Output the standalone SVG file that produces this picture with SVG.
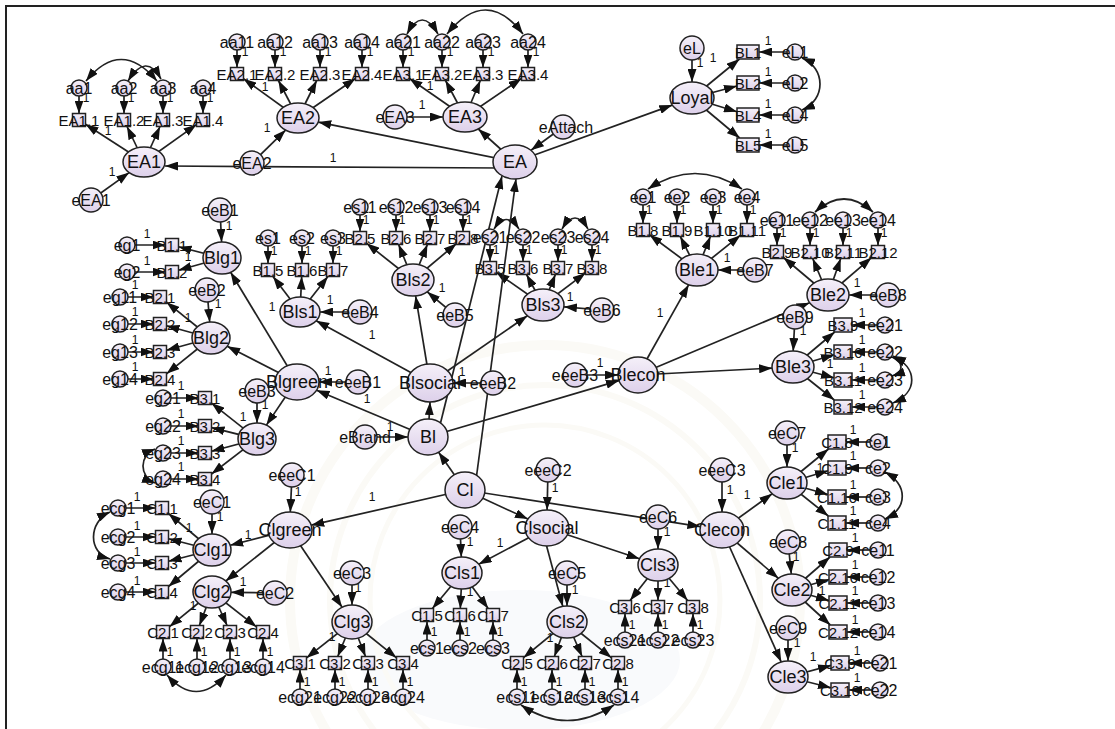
<svg xmlns="http://www.w3.org/2000/svg" width="1115" height="729" viewBox="0 0 1115 729">
<defs>
  <linearGradient id="lg" x1="0" y1="0" x2="0" y2="1">
    <stop offset="0" stop-color="#f5f0f9"/>
    <stop offset="1" stop-color="#ddd0ea"/>
  </linearGradient>
  <marker id="ah" viewBox="0 0 13 9" refX="13" refY="4.5" markerWidth="13" markerHeight="9" markerUnits="userSpaceOnUse" orient="auto-start-reverse">
    <path d="M0,0 L13,4.5 L0,9 z" fill="#111"/>
  </marker>
</defs>
<style>
  .n{fill:url(#lg);stroke:#222;stroke-width:1.5}
  .c line,.c path{stroke:#222;stroke-width:1.7;fill:none;marker-end:url(#ah)}
  .c path.cov{marker-start:url(#ah)}
  text{font-family:"Liberation Sans",Arial,sans-serif;fill:#111;text-anchor:middle;dominant-baseline:central}
  .tl{font-size:18px}
  .te{font-size:16px}
  .to{font-size:15px}
  .one{font-size:12px}
  .wm{fill:none;stroke:#fbfaf6}
</style>
<rect width="1115" height="729" fill="#fff"/>
<!-- faint seal in the background -->
<g id="watermark">
  <ellipse cx="520" cy="660" rx="160" ry="70" fill="#f9fafc"/>
  <circle class="wm" cx="545" cy="600" r="255" stroke-width="10"/>
  <circle class="wm" cx="545" cy="600" r="215" stroke-width="6"/>
  <circle class="wm" cx="545" cy="600" r="175" stroke-width="5"/>
</g>
<!-- frame -->
<path d="M6,729 V6 H1115" fill="none" stroke="#222" stroke-width="2"/>

<g id="connectors" class="c">
  <!-- EA level -->
  <line x1="500" y1="168" x2="165" y2="166"/>
  <line x1="515" y1="162" x2="318.2" y2="122.1"/>
  <line x1="515" y1="162" x2="478.3" y2="129"/>
  <line x1="515" y1="162" x2="672.3" y2="105.1"/>
  <line x1="563" y1="127" x2="531" y2="150.3"/>
  <line x1="91" y1="200" x2="129.2" y2="172.6"/>
  <line x1="252" y1="163" x2="285.6" y2="130.1"/>
  <line x1="395" y1="117" x2="443" y2="117"/>
  <line x1="144" y1="162" x2="85.5" y2="124.2"/>
  <line x1="144" y1="162" x2="127" y2="126.5"/>
  <line x1="144" y1="162" x2="160" y2="126.5"/>
  <line x1="144" y1="162" x2="196.5" y2="124.6"/>
  <line x1="79" y1="88" x2="79" y2="113.5"/>
  <line x1="124" y1="88" x2="124" y2="113.5"/>
  <line x1="163" y1="88" x2="163" y2="113.5"/>
  <line x1="203" y1="88" x2="203" y2="113.5"/>
  <line x1="298" y1="118" x2="243.5" y2="78.7"/>
  <line x1="298" y1="118" x2="278.4" y2="80.5"/>
  <line x1="298" y1="118" x2="316.7" y2="80.5"/>
  <line x1="298" y1="118" x2="355.5" y2="78.5"/>
  <line x1="237" y1="42" x2="237" y2="67.5"/>
  <line x1="275" y1="42" x2="275" y2="67.5"/>
  <line x1="320" y1="42" x2="320" y2="67.5"/>
  <line x1="362" y1="42" x2="362" y2="67.5"/>
  <line x1="465" y1="117" x2="409.5" y2="78.5"/>
  <line x1="465" y1="117" x2="445.5" y2="80.5"/>
  <line x1="465" y1="117" x2="480.3" y2="80.5"/>
  <line x1="465" y1="117" x2="521.5" y2="78.4"/>
  <line x1="403" y1="42" x2="403" y2="67.5"/>
  <line x1="442" y1="42" x2="442" y2="67.5"/>
  <line x1="483" y1="42" x2="483" y2="67.5"/>
  <line x1="528" y1="42" x2="528" y2="67.5"/>
  <path class="cov" d="M86,81 Q121,38 157,81"/>
  <path class="cov" d="M128,81 Q146,52 161,79"/>
  <path class="cov" d="M407,34 Q422,6 438,34"/>
  <path class="cov" d="M447,34 Q486,-14 523,34"/>
  <!-- Loyal -->
  <line x1="692" y1="48" x2="692" y2="82"/>
  <line x1="692" y1="98" x2="739.5" y2="59"/>
  <line x1="692" y1="98" x2="737" y2="86"/>
  <line x1="692" y1="98" x2="737" y2="111.7"/>
  <line x1="692" y1="98" x2="739.7" y2="138"/>
  <line x1="795" y1="52" x2="759" y2="52"/>
  <line x1="795" y1="83" x2="759" y2="83"/>
  <line x1="795" y1="115" x2="759" y2="115"/>
  <line x1="795" y1="145" x2="759" y2="145"/>
  <path class="cov" d="M802,58 C826,68 826,100 802,110"/>
  <!-- BI green -->
  <line x1="220" y1="210" x2="221.6" y2="242"/>
  <line x1="222" y1="258" x2="178.5" y2="246.7"/>
  <line x1="222" y1="258" x2="178.5" y2="270.2"/>
  <line x1="127" y1="245" x2="165.5" y2="245"/>
  <line x1="127" y1="272" x2="165.5" y2="272"/>
  <line x1="207" y1="290" x2="209.7" y2="322"/>
  <line x1="211" y1="338" x2="166.5" y2="302.2"/>
  <line x1="211" y1="338" x2="166.5" y2="325.8"/>
  <line x1="211" y1="338" x2="166.5" y2="350.2"/>
  <line x1="211" y1="338" x2="166.5" y2="373.8"/>
  <line x1="120" y1="297" x2="153.5" y2="297"/>
  <line x1="120" y1="324" x2="153.5" y2="324"/>
  <line x1="120" y1="352" x2="153.5" y2="352"/>
  <line x1="120" y1="379" x2="153.5" y2="379"/>
  <line x1="257" y1="391" x2="257" y2="423"/>
  <line x1="257" y1="439" x2="211.5" y2="403.1"/>
  <line x1="257" y1="439" x2="211.5" y2="427.6"/>
  <line x1="257" y1="439" x2="211.5" y2="451.3"/>
  <line x1="257" y1="439" x2="211.5" y2="474"/>
  <line x1="163" y1="398" x2="198.5" y2="398"/>
  <line x1="163" y1="426" x2="198.5" y2="426"/>
  <line x1="163" y1="453" x2="198.5" y2="453"/>
  <line x1="163" y1="479" x2="198.5" y2="479"/>
  <path class="cov" d="M155,449 C139,455 139,477 155,483"/>
  <line x1="358" y1="382" x2="319" y2="382"/>
  <line x1="297" y1="382" x2="230.6" y2="272.3"/>
  <line x1="297" y1="382" x2="227.2" y2="346.3"/>
  <line x1="290" y1="390" x2="266.4" y2="425.1"/>
  <!-- BI social -->
  <line x1="360" y1="312" x2="320" y2="312"/>
  <line x1="300" y1="312" x2="273" y2="276.5"/>
  <line x1="300" y1="312" x2="301.7" y2="276.5"/>
  <line x1="300" y1="312" x2="327.9" y2="276.5"/>
  <line x1="268" y1="238" x2="268" y2="263.5"/>
  <line x1="302" y1="238" x2="302" y2="263.5"/>
  <line x1="333" y1="238" x2="333" y2="263.5"/>
  <line x1="455" y1="315" x2="427.2" y2="291.8"/>
  <line x1="413" y1="280" x2="366.5" y2="243.2"/>
  <line x1="413" y1="280" x2="398.6" y2="244.5"/>
  <line x1="413" y1="280" x2="427.4" y2="244.5"/>
  <line x1="413" y1="280" x2="456.5" y2="243.5"/>
  <line x1="360" y1="207" x2="360" y2="231.5"/>
  <line x1="396" y1="207" x2="396" y2="231.5"/>
  <line x1="430" y1="207" x2="430" y2="231.5"/>
  <line x1="463" y1="207" x2="463" y2="231.5"/>
  <line x1="602" y1="310" x2="563.9" y2="306.8"/>
  <line x1="543" y1="305" x2="496.5" y2="272.5"/>
  <line x1="543" y1="305" x2="526.5" y2="274.5"/>
  <line x1="543" y1="305" x2="555.4" y2="274.5"/>
  <line x1="543" y1="305" x2="585.5" y2="272.9"/>
  <line x1="490" y1="237" x2="490" y2="261.5"/>
  <line x1="523" y1="237" x2="523" y2="261.5"/>
  <line x1="558" y1="237" x2="558" y2="261.5"/>
  <line x1="592" y1="237" x2="592" y2="261.5"/>
  <path class="cov" d="M494,229 Q506,210 519,229"/>
  <path class="cov" d="M562,229 Q575,207 588,229"/>
  <line x1="493" y1="383" x2="453" y2="383"/>
  <line x1="430" y1="383" x2="316.2" y2="320.8"/>
  <line x1="430" y1="383" x2="415.6" y2="295.9"/>
  <line x1="430" y1="383" x2="527.4" y2="315.7"/>
  <!-- BI economic -->
  <line x1="755" y1="270" x2="718" y2="270"/>
  <line x1="697" y1="270" x2="649.5" y2="234.8"/>
  <line x1="697" y1="270" x2="680.3" y2="236.5"/>
  <line x1="697" y1="270" x2="710.4" y2="236.5"/>
  <line x1="697" y1="270" x2="740.5" y2="235.2"/>
  <line x1="643" y1="197" x2="643" y2="223.5"/>
  <line x1="677" y1="197" x2="677" y2="223.5"/>
  <line x1="713" y1="197" x2="713" y2="223.5"/>
  <line x1="747" y1="197" x2="747" y2="223.5"/>
  <path class="cov" d="M648,189 Q695,158 742,189"/>
  <line x1="888" y1="295" x2="849" y2="295"/>
  <line x1="828" y1="295" x2="783.5" y2="257.5"/>
  <line x1="828" y1="295" x2="812.7" y2="258.5"/>
  <line x1="828" y1="295" x2="840.7" y2="258.5"/>
  <line x1="828" y1="295" x2="871.5" y2="257.6"/>
  <line x1="777" y1="220" x2="777" y2="245.5"/>
  <line x1="810" y1="220" x2="810" y2="245.5"/>
  <line x1="843" y1="220" x2="843" y2="245.5"/>
  <line x1="878" y1="220" x2="878" y2="245.5"/>
  <path class="cov" d="M815,212 Q844,186 873,212"/>
  <line x1="795" y1="317" x2="793.2" y2="351"/>
  <line x1="793" y1="367" x2="834.7" y2="332"/>
  <line x1="793" y1="367" x2="834" y2="354.7"/>
  <line x1="793" y1="367" x2="834" y2="377.7"/>
  <line x1="793" y1="367" x2="834.3" y2="400"/>
  <line x1="885" y1="325" x2="852" y2="325"/>
  <line x1="885" y1="352" x2="852" y2="352"/>
  <line x1="885" y1="380" x2="852" y2="380"/>
  <line x1="885" y1="407" x2="852" y2="407"/>
  <path class="cov" d="M892,357 C904,362 904,372 892,376"/>
  <path class="cov" d="M893,356 C918,368 918,392 893,403"/>
  <line x1="575" y1="375" x2="618" y2="375"/>
  <line x1="638" y1="375" x2="688.7" y2="284.7"/>
  <line x1="638" y1="375" x2="809.6" y2="302.7"/>
  <line x1="638" y1="375" x2="772.1" y2="368.1"/>
  <!-- BI and CI -->
  <line x1="365" y1="437" x2="408" y2="437"/>
  <line x1="428" y1="437" x2="316.6" y2="390.2"/>
  <line x1="428" y1="437" x2="430" y2="402"/>
  <line x1="428" y1="437" x2="619" y2="380.6"/>
  <line x1="440" y1="425" x2="502" y2="176"/>
  <line x1="476" y1="480" x2="516" y2="179"/>
  <line x1="465" y1="490" x2="438.6" y2="452.2"/>
  <line x1="465" y1="490" x2="311.2" y2="525.2"/>
  <line x1="465" y1="490" x2="527.9" y2="519.1"/>
  <line x1="465" y1="490" x2="700.4" y2="526.6"/>
  <!-- CI green -->
  <line x1="292" y1="475" x2="290.3" y2="512"/>
  <line x1="290" y1="530" x2="230.2" y2="545.3"/>
  <line x1="290" y1="530" x2="225.8" y2="581"/>
  <line x1="290" y1="530" x2="342.1" y2="607.3"/>
  <line x1="212" y1="502" x2="212" y2="534"/>
  <line x1="212" y1="550" x2="168.5" y2="513.5"/>
  <line x1="212" y1="550" x2="168.5" y2="538.7"/>
  <line x1="212" y1="550" x2="168.5" y2="561.3"/>
  <line x1="212" y1="550" x2="168.5" y2="586.5"/>
  <line x1="118" y1="508" x2="155.5" y2="508"/>
  <line x1="118" y1="537" x2="155.5" y2="537"/>
  <line x1="118" y1="563" x2="155.5" y2="563"/>
  <line x1="118" y1="592" x2="155.5" y2="592"/>
  <path class="cov" d="M110,512 C88,522 88,553 110,559"/>
  <line x1="275" y1="593" x2="231" y2="592.3"/>
  <line x1="212" y1="592" x2="169.5" y2="626.7"/>
  <line x1="212" y1="592" x2="199.4" y2="625.5"/>
  <line x1="212" y1="592" x2="227.1" y2="625.5"/>
  <line x1="212" y1="592" x2="256.5" y2="626.9"/>
  <line x1="163" y1="667" x2="163" y2="638.5"/>
  <line x1="197" y1="667" x2="197" y2="638.5"/>
  <line x1="230" y1="667" x2="230" y2="638.5"/>
  <line x1="263" y1="667" x2="263" y2="638.5"/>
  <path class="cov" d="M167,675 Q196,708 226,675"/>
  <line x1="352" y1="573" x2="352" y2="605"/>
  <line x1="352" y1="622" x2="306.5" y2="657.9"/>
  <line x1="352" y1="622" x2="337.7" y2="656.5"/>
  <line x1="352" y1="622" x2="365.5" y2="656.5"/>
  <line x1="352" y1="622" x2="396.5" y2="657.8"/>
  <line x1="300" y1="697" x2="300" y2="669.5"/>
  <line x1="335" y1="697" x2="335" y2="669.5"/>
  <line x1="368" y1="697" x2="368" y2="669.5"/>
  <line x1="403" y1="697" x2="403" y2="669.5"/>
  <!-- CI social -->
  <line x1="548" y1="470" x2="547.1" y2="510"/>
  <line x1="547" y1="528" x2="478.7" y2="564.2"/>
  <line x1="545" y1="540" x2="562.8" y2="606.4"/>
  <line x1="547" y1="528" x2="639.5" y2="558.8"/>
  <line x1="460" y1="527" x2="461.3" y2="557"/>
  <line x1="462" y1="573" x2="432.4" y2="608.5"/>
  <line x1="462" y1="573" x2="460.3" y2="608.5"/>
  <line x1="462" y1="573" x2="488.2" y2="608.5"/>
  <line x1="427" y1="648" x2="427" y2="621.5"/>
  <line x1="460" y1="648" x2="460" y2="621.5"/>
  <line x1="493" y1="648" x2="493" y2="621.5"/>
  <line x1="567" y1="573" x2="567" y2="606"/>
  <line x1="567" y1="622" x2="523.5" y2="657.7"/>
  <line x1="567" y1="622" x2="554.4" y2="656.5"/>
  <line x1="567" y1="622" x2="582.1" y2="656.5"/>
  <line x1="567" y1="622" x2="611.5" y2="657.8"/>
  <line x1="517" y1="697" x2="517" y2="669.5"/>
  <line x1="552" y1="697" x2="552" y2="669.5"/>
  <line x1="585" y1="697" x2="585" y2="669.5"/>
  <line x1="618" y1="697" x2="618" y2="669.5"/>
  <path class="cov" d="M521,705 Q567,736 614,705"/>
  <line x1="658" y1="517" x2="658" y2="549"/>
  <line x1="658" y1="565" x2="630.1" y2="600.5"/>
  <line x1="658" y1="565" x2="658" y2="600.5"/>
  <line x1="658" y1="565" x2="687.6" y2="600.5"/>
  <line x1="625" y1="640" x2="625" y2="613.5"/>
  <line x1="658" y1="640" x2="658" y2="613.5"/>
  <line x1="693" y1="640" x2="693" y2="613.5"/>
  <!-- CI economic -->
  <line x1="722" y1="470" x2="722" y2="512"/>
  <line x1="722" y1="530" x2="772.2" y2="493.7"/>
  <line x1="722" y1="530" x2="778.4" y2="578.3"/>
  <line x1="722" y1="530" x2="781.2" y2="661.9"/>
  <line x1="787" y1="433" x2="787" y2="467"/>
  <line x1="787" y1="483" x2="828.5" y2="449"/>
  <line x1="787" y1="483" x2="828" y2="470.7"/>
  <line x1="787" y1="483" x2="828" y2="494.5"/>
  <line x1="787" y1="483" x2="828.3" y2="516"/>
  <line x1="878" y1="442" x2="846" y2="442"/>
  <line x1="878" y1="468" x2="846" y2="468"/>
  <line x1="878" y1="497" x2="846" y2="497"/>
  <line x1="878" y1="523" x2="846" y2="523"/>
  <path class="cov" d="M885,472 C908,485 908,508 885,519"/>
  <line x1="788" y1="542" x2="791.3" y2="574"/>
  <line x1="792" y1="590" x2="830" y2="557"/>
  <line x1="792" y1="590" x2="829" y2="579.5"/>
  <line x1="792" y1="590" x2="829" y2="600.5"/>
  <line x1="792" y1="590" x2="830.3" y2="625"/>
  <line x1="878" y1="550" x2="847" y2="550"/>
  <line x1="878" y1="577" x2="847" y2="577"/>
  <line x1="878" y1="603" x2="847" y2="603"/>
  <line x1="878" y1="632" x2="847" y2="632"/>
  <line x1="788" y1="628" x2="788" y2="661"/>
  <line x1="788" y1="677" x2="831" y2="665.4"/>
  <line x1="788" y1="677" x2="831" y2="687.8"/>
  <line x1="880" y1="663" x2="849" y2="663"/>
  <line x1="880" y1="690" x2="849" y2="690"/>
</g>

<g id="weights">
  <text class="one" x="86" y="98">1</text><text class="one" x="131" y="98">1</text><text class="one" x="170" y="98">1</text><text class="one" x="210" y="98">1</text>
  <text class="one" x="108" y="131">1</text><text class="one" x="112" y="172">1</text>
  <text class="one" x="245" y="52">1</text><text class="one" x="283" y="52">1</text><text class="one" x="328" y="52">1</text><text class="one" x="370" y="52">1</text>
  <text class="one" x="265" y="87">1</text><text class="one" x="267" y="128">1</text>
  <text class="one" x="411" y="52">1</text><text class="one" x="450" y="52">1</text><text class="one" x="491" y="52">1</text><text class="one" x="536" y="52">1</text>
  <text class="one" x="430" y="86">1</text><text class="one" x="422" y="105">1</text>
  <text class="one" x="333" y="158">1</text>
  <text class="one" x="700" y="63">1</text><text class="one" x="713" y="58">1</text>
  <text class="one" x="768" y="41">1</text><text class="one" x="768" y="72">1</text><text class="one" x="768" y="104">1</text><text class="one" x="768" y="134">1</text>
  <text class="one" x="229" y="226">1</text>
  <text class="one" x="147" y="234">1</text><text class="one" x="147" y="261">1</text><text class="one" x="188" y="257">1</text>
  <text class="one" x="135" y="285">1</text><text class="one" x="135" y="312">1</text><text class="one" x="135" y="340">1</text><text class="one" x="135" y="367">1</text>
  <text class="one" x="218" y="304">1</text><text class="one" x="188" y="318">1</text>
  <text class="one" x="181" y="386">1</text><text class="one" x="181" y="414">1</text><text class="one" x="181" y="441">1</text><text class="one" x="181" y="467">1</text>
  <text class="one" x="265" y="405">1</text><text class="one" x="243" y="417">1</text>
  <text class="one" x="274" y="251">1</text><text class="one" x="308" y="251">1</text><text class="one" x="339" y="251">1</text>
  <text class="one" x="272" y="307">1</text><text class="one" x="330" y="300">1</text><text class="one" x="372" y="335">1</text>
  <text class="one" x="366" y="220">1</text><text class="one" x="402" y="220">1</text><text class="one" x="436" y="220">1</text><text class="one" x="469" y="220">1</text>
  <text class="one" x="442" y="288">1</text>
  <text class="one" x="496" y="250">1</text><text class="one" x="529" y="250">1</text><text class="one" x="564" y="250">1</text><text class="one" x="598" y="250">1</text>
  <text class="one" x="570" y="297">1</text>
  <text class="one" x="328" y="371">1</text><text class="one" x="367" y="399">1</text><text class="one" x="462" y="372">1</text><text class="one" x="390" y="427">1</text>
  <text class="one" x="649" y="210">1</text><text class="one" x="683" y="210">1</text><text class="one" x="719" y="210">1</text><text class="one" x="753" y="210">1</text>
  <text class="one" x="727" y="258">1</text><text class="one" x="660" y="313">1</text><text class="one" x="600" y="363">1</text>
  <text class="one" x="783" y="233">1</text><text class="one" x="816" y="233">1</text><text class="one" x="849" y="233">1</text><text class="one" x="884" y="233">1</text>
  <text class="one" x="857" y="283">1</text><text class="one" x="803" y="331">1</text>
  <text class="one" x="862" y="313">1</text><text class="one" x="862" y="340">1</text><text class="one" x="862" y="368">1</text><text class="one" x="862" y="395">1</text>
  <text class="one" x="830" y="364">1</text>
  <text class="one" x="298" y="492">1</text><text class="one" x="372" y="497">1</text>
  <text class="one" x="220" y="517">1</text><text class="one" x="248" y="535">1</text><text class="one" x="189" y="528">1</text>
  <text class="one" x="137" y="497">1</text><text class="one" x="137" y="526">1</text><text class="one" x="137" y="552">1</text><text class="one" x="137" y="581">1</text>
  <text class="one" x="243" y="582">1</text><text class="one" x="193" y="606">1</text>
  <text class="one" x="170" y="652">1</text><text class="one" x="204" y="652">1</text><text class="one" x="237" y="652">1</text><text class="one" x="270" y="652">1</text>
  <text class="one" x="358" y="588">1</text><text class="one" x="332" y="637">1</text>
  <text class="one" x="307" y="682">1</text><text class="one" x="342" y="682">1</text><text class="one" x="375" y="682">1</text><text class="one" x="410" y="682">1</text>
  <text class="one" x="555" y="488">1</text><text class="one" x="470" y="542">1</text><text class="one" x="500" y="543">1</text><text class="one" x="470" y="592">1</text>
  <text class="one" x="434" y="632">1</text><text class="one" x="467" y="632">1</text><text class="one" x="500" y="632">1</text>
  <text class="one" x="575" y="590">1</text><text class="one" x="550" y="638">1</text>
  <text class="one" x="524" y="682">1</text><text class="one" x="559" y="682">1</text><text class="one" x="592" y="682">1</text><text class="one" x="625" y="682">1</text>
  <text class="one" x="667" y="532">1</text><text class="one" x="667" y="583">1</text>
  <text class="one" x="632" y="625">1</text><text class="one" x="665" y="625">1</text><text class="one" x="700" y="625">1</text>
  <text class="one" x="730" y="490">1</text><text class="one" x="747" y="495">1</text>
  <text class="one" x="795" y="448">1</text><text class="one" x="820" y="468">1</text>
  <text class="one" x="853" y="430">1</text><text class="one" x="853" y="456">1</text><text class="one" x="853" y="485">1</text><text class="one" x="853" y="511">1</text>
  <text class="one" x="796" y="557">1</text><text class="one" x="822" y="591">1</text>
  <text class="one" x="855" y="538">1</text><text class="one" x="855" y="565">1</text><text class="one" x="855" y="591">1</text><text class="one" x="855" y="620">1</text>
  <text class="one" x="797" y="643">1</text><text class="one" x="813" y="657">1</text>
  <text class="one" x="857" y="651">1</text><text class="one" x="857" y="678">1</text>
</g>

<!-- latent variables -->
<g id="EA"><ellipse class="n" cx="515" cy="162" rx="22" ry="17"/><text class="tl" x="515" y="162">EA</text></g>
<g id="EA1"><ellipse class="n" cx="144" cy="162" rx="21" ry="15"/><text class="tl" x="144" y="162">EA1</text></g>
<g id="EA2"><ellipse class="n" cx="298" cy="118" rx="21" ry="15"/><text class="tl" x="298" y="118">EA2</text></g>
<g id="EA3"><ellipse class="n" cx="465" cy="117" rx="22" ry="15"/><text class="tl" x="465" y="117">EA3</text></g>
<g id="Loyal"><ellipse class="n" cx="692" cy="98" rx="22" ry="16"/><text class="tl" x="692" y="98">Loyal</text></g>
<g id="Bl"><ellipse class="n" cx="428" cy="437" rx="20" ry="18"/><text class="tl" x="428" y="437">Bl</text></g>
<g id="Blgreen"><ellipse class="n" cx="297" cy="382" rx="22" ry="18"/><text class="tl" x="297" y="382">Blgreen</text></g>
<g id="Blsocial"><ellipse class="n" cx="430" cy="383" rx="23" ry="19"/><text class="tl" x="430" y="383">Blsocial</text></g>
<g id="Blecon"><ellipse class="n" cx="638" cy="375" rx="20" ry="18"/><text class="tl" x="638" y="375">Blecon</text></g>
<g id="Blg1"><ellipse class="n" cx="222" cy="258" rx="19" ry="16"/><text class="tl" x="222" y="258">Blg1</text></g>
<g id="Blg2"><ellipse class="n" cx="211" cy="338" rx="19" ry="16"/><text class="tl" x="211" y="338">Blg2</text></g>
<g id="Blg3"><ellipse class="n" cx="257" cy="439" rx="19" ry="16"/><text class="tl" x="257" y="439">Blg3</text></g>
<g id="Bls1"><ellipse class="n" cx="300" cy="312" rx="20" ry="15"/><text class="tl" x="300" y="312">Bls1</text></g>
<g id="Bls2"><ellipse class="n" cx="413" cy="280" rx="21" ry="16"/><text class="tl" x="413" y="280">Bls2</text></g>
<g id="Bls3"><ellipse class="n" cx="543" cy="305" rx="21" ry="16"/><text class="tl" x="543" y="305">Bls3</text></g>
<g id="Ble1"><ellipse class="n" cx="697" cy="270" rx="21" ry="16"/><text class="tl" x="697" y="270">Ble1</text></g>
<g id="Ble2"><ellipse class="n" cx="828" cy="295" rx="21" ry="16"/><text class="tl" x="828" y="295">Ble2</text></g>
<g id="Ble3"><ellipse class="n" cx="793" cy="367" rx="21" ry="16"/><text class="tl" x="793" y="367">Ble3</text></g>
<g id="CI"><ellipse class="n" cx="465" cy="490" rx="20" ry="18"/><text class="tl" x="465" y="490">Cl</text></g>
<g id="Clgreen"><ellipse class="n" cx="290" cy="530" rx="22" ry="18"/><text class="tl" x="290" y="530">Clgreen</text></g>
<g id="Clsocial"><ellipse class="n" cx="547" cy="528" rx="22" ry="18"/><text class="tl" x="547" y="528">Clsocial</text></g>
<g id="Clecon"><ellipse class="n" cx="722" cy="530" rx="22" ry="18"/><text class="tl" x="722" y="530">Clecon</text></g>
<g id="Clg1"><ellipse class="n" cx="212" cy="550" rx="19" ry="16"/><text class="tl" x="212" y="550">Clg1</text></g>
<g id="Clg2"><ellipse class="n" cx="212" cy="592" rx="19" ry="16"/><text class="tl" x="212" y="592">Clg2</text></g>
<g id="Clg3"><ellipse class="n" cx="352" cy="622" rx="20" ry="17"/><text class="tl" x="352" y="622">Clg3</text></g>
<g id="Cls1"><ellipse class="n" cx="462" cy="573" rx="20" ry="16"/><text class="tl" x="462" y="573">Cls1</text></g>
<g id="Cls2"><ellipse class="n" cx="567" cy="622" rx="20" ry="16"/><text class="tl" x="567" y="622">Cls2</text></g>
<g id="Cls3"><ellipse class="n" cx="658" cy="565" rx="20" ry="16"/><text class="tl" x="658" y="565">Cls3</text></g>
<g id="Cle1"><ellipse class="n" cx="787" cy="483" rx="20" ry="16"/><text class="tl" x="787" y="483">Cle1</text></g>
<g id="Cle2"><ellipse class="n" cx="792" cy="590" rx="20" ry="16"/><text class="tl" x="792" y="590">Cle2</text></g>
<g id="Cle3"><ellipse class="n" cx="788" cy="677" rx="20" ry="16"/><text class="tl" x="788" y="677">Cle3</text></g>

<!-- disturbances -->
<g id="eEA1"><circle class="n" cx="91" cy="200" r="12"/><text class="te" x="91" y="200">eEA1</text></g>
<g id="eEA2"><circle class="n" cx="252" cy="163" r="12"/><text class="te" x="252" y="163">eEA2</text></g>
<g id="eEA3"><circle class="n" cx="395" cy="117" r="12"/><text class="te" x="395" y="117">eEA3</text></g>
<g id="eAttach"><circle class="n" cx="563" cy="127" r="12"/><text class="te" x="566" y="127">eAttach</text></g>
<g id="eL"><circle class="n" cx="692" cy="48" r="12"/><text class="te" x="692" y="48">eL</text></g>
<g id="eeB1"><circle class="n" cx="220" cy="210" r="12"/><text class="te" x="220" y="210">eeB1</text></g>
<g id="eeB2"><circle class="n" cx="207" cy="290" r="12"/><text class="te" x="207" y="290">eeB2</text></g>
<g id="eeB3"><circle class="n" cx="257" cy="391" r="12"/><text class="te" x="257" y="391">eeB3</text></g>
<g id="eeB4"><circle class="n" cx="360" cy="312" r="12"/><text class="te" x="360" y="312">eeB4</text></g>
<g id="eeB5"><circle class="n" cx="455" cy="315" r="12"/><text class="te" x="455" y="315">eeB5</text></g>
<g id="eeB6"><circle class="n" cx="602" cy="310" r="12"/><text class="te" x="602" y="310">eeB6</text></g>
<g id="eeB7"><circle class="n" cx="755" cy="270" r="12"/><text class="te" x="755" y="270">eeB7</text></g>
<g id="eeB8"><circle class="n" cx="888" cy="295" r="12"/><text class="te" x="888" y="295">eeB8</text></g>
<g id="eeB9"><circle class="n" cx="795" cy="317" r="12"/><text class="te" x="795" y="317">eeB9</text></g>
<g id="eeeB1"><circle class="n" cx="358" cy="382" r="12"/><text class="te" x="358" y="382">eeeB1</text></g>
<g id="eeeB2"><circle class="n" cx="493" cy="383" r="12"/><text class="te" x="493" y="383">eeeB2</text></g>
<g id="eeeB3"><circle class="n" cx="575" cy="375" r="12"/><text class="te" x="575" y="375">eeeB3</text></g>
<g id="eBrand"><circle class="n" cx="365" cy="437" r="12"/><text class="te" x="365" y="437">eBrand</text></g>
<g id="eeeC1"><circle class="n" cx="292" cy="475" r="12"/><text class="te" x="292" y="475">eeeC1</text></g>
<g id="eeeC2"><circle class="n" cx="548" cy="470" r="12"/><text class="te" x="548" y="470">eeeC2</text></g>
<g id="eeeC3"><circle class="n" cx="722" cy="470" r="12"/><text class="te" x="722" y="470">eeeC3</text></g>
<g id="eeC1"><circle class="n" cx="212" cy="502" r="12"/><text class="te" x="212" y="502">eeC1</text></g>
<g id="eeC2"><circle class="n" cx="275" cy="593" r="12"/><text class="te" x="275" y="593">eeC2</text></g>
<g id="eeC3"><circle class="n" cx="352" cy="573" r="12"/><text class="te" x="352" y="573">eeC3</text></g>
<g id="eeC4"><circle class="n" cx="460" cy="527" r="12"/><text class="te" x="460" y="527">eeC4</text></g>
<g id="eeC5"><circle class="n" cx="567" cy="573" r="12"/><text class="te" x="567" y="573">eeC5</text></g>
<g id="eeC6"><circle class="n" cx="658" cy="517" r="12"/><text class="te" x="658" y="517">eeC6</text></g>
<g id="eeC7"><circle class="n" cx="787" cy="433" r="12"/><text class="te" x="787" y="433">eeC7</text></g>
<g id="eeC8"><circle class="n" cx="788" cy="542" r="12"/><text class="te" x="788" y="542">eeC8</text></g>
<g id="eeC9"><circle class="n" cx="788" cy="628" r="12"/><text class="te" x="788" y="628">eeC9</text></g>

<!-- measurement errors -->
<g id="aa1"><circle class="n" cx="79" cy="88" r="8"/><text class="te" x="79" y="88">aa1</text></g>
<g id="aa2"><circle class="n" cx="124" cy="88" r="8"/><text class="te" x="124" y="88">aa2</text></g>
<g id="aa3"><circle class="n" cx="163" cy="88" r="8"/><text class="te" x="163" y="88">aa3</text></g>
<g id="aa4"><circle class="n" cx="203" cy="88" r="8"/><text class="te" x="203" y="88">aa4</text></g>
<g id="aa11"><circle class="n" cx="237" cy="42" r="8"/><text class="te" x="237" y="42">aa11</text></g>
<g id="aa12"><circle class="n" cx="275" cy="42" r="8"/><text class="te" x="275" y="42">aa12</text></g>
<g id="aa13"><circle class="n" cx="320" cy="42" r="8"/><text class="te" x="320" y="42">aa13</text></g>
<g id="aa14"><circle class="n" cx="362" cy="42" r="8"/><text class="te" x="362" y="42">aa14</text></g>
<g id="aa21"><circle class="n" cx="403" cy="42" r="8"/><text class="te" x="403" y="42">aa21</text></g>
<g id="aa22"><circle class="n" cx="442" cy="42" r="8"/><text class="te" x="442" y="42">aa22</text></g>
<g id="aa23"><circle class="n" cx="483" cy="42" r="8"/><text class="te" x="483" y="42">aa23</text></g>
<g id="aa24"><circle class="n" cx="528" cy="42" r="8"/><text class="te" x="528" y="42">aa24</text></g>
<g id="eL1"><circle class="n" cx="795" cy="52" r="8"/><text class="te" x="795" y="52">eL1</text></g>
<g id="eL2"><circle class="n" cx="795" cy="83" r="8"/><text class="te" x="795" y="83">eL2</text></g>
<g id="eL4"><circle class="n" cx="795" cy="115" r="8"/><text class="te" x="795" y="115">eL4</text></g>
<g id="eL5"><circle class="n" cx="795" cy="145" r="8"/><text class="te" x="795" y="145">eL5</text></g>
<g id="eg1"><circle class="n" cx="127" cy="245" r="8"/><text class="te" x="127" y="245">eg1</text></g>
<g id="eg2"><circle class="n" cx="127" cy="272" r="8"/><text class="te" x="127" y="272">eg2</text></g>
<g id="eg11"><circle class="n" cx="120" cy="297" r="8"/><text class="te" x="120" y="297">eg11</text></g>
<g id="eg12"><circle class="n" cx="120" cy="324" r="8"/><text class="te" x="120" y="324">eg12</text></g>
<g id="eg13"><circle class="n" cx="120" cy="352" r="8"/><text class="te" x="120" y="352">eg13</text></g>
<g id="eg14"><circle class="n" cx="120" cy="379" r="8"/><text class="te" x="120" y="379">eg14</text></g>
<g id="eg21"><circle class="n" cx="163" cy="398" r="8"/><text class="te" x="163" y="398">eg21</text></g>
<g id="eg22"><circle class="n" cx="163" cy="426" r="8"/><text class="te" x="163" y="426">eg22</text></g>
<g id="eg23"><circle class="n" cx="163" cy="453" r="8"/><text class="te" x="163" y="453">eg23</text></g>
<g id="eg24"><circle class="n" cx="163" cy="479" r="8"/><text class="te" x="163" y="479">eg24</text></g>
<g id="es1"><circle class="n" cx="268" cy="238" r="8"/><text class="te" x="268" y="238">es1</text></g>
<g id="es2"><circle class="n" cx="302" cy="238" r="8"/><text class="te" x="302" y="238">es2</text></g>
<g id="es3"><circle class="n" cx="333" cy="238" r="8"/><text class="te" x="333" y="238">es3</text></g>
<g id="es11"><circle class="n" cx="360" cy="207" r="8"/><text class="te" x="360" y="207">es11</text></g>
<g id="es12"><circle class="n" cx="396" cy="207" r="8"/><text class="te" x="396" y="207">es12</text></g>
<g id="es13"><circle class="n" cx="430" cy="207" r="8"/><text class="te" x="430" y="207">es13</text></g>
<g id="es14"><circle class="n" cx="463" cy="207" r="8"/><text class="te" x="463" y="207">es14</text></g>
<g id="es21"><circle class="n" cx="490" cy="237" r="8"/><text class="te" x="490" y="237">es21</text></g>
<g id="es22"><circle class="n" cx="523" cy="237" r="8"/><text class="te" x="523" y="237">es22</text></g>
<g id="es23"><circle class="n" cx="558" cy="237" r="8"/><text class="te" x="558" y="237">es23</text></g>
<g id="es24"><circle class="n" cx="592" cy="237" r="8"/><text class="te" x="592" y="237">es24</text></g>
<g id="ee1"><circle class="n" cx="643" cy="197" r="8"/><text class="te" x="643" y="197">ee1</text></g>
<g id="ee2"><circle class="n" cx="677" cy="197" r="8"/><text class="te" x="677" y="197">ee2</text></g>
<g id="ee3"><circle class="n" cx="713" cy="197" r="8"/><text class="te" x="713" y="197">ee3</text></g>
<g id="ee4"><circle class="n" cx="747" cy="197" r="8"/><text class="te" x="747" y="197">ee4</text></g>
<g id="ee11"><circle class="n" cx="777" cy="220" r="8"/><text class="te" x="777" y="220">ee11</text></g>
<g id="ee12"><circle class="n" cx="810" cy="220" r="8"/><text class="te" x="810" y="220">ee12</text></g>
<g id="ee13"><circle class="n" cx="843" cy="220" r="8"/><text class="te" x="843" y="220">ee13</text></g>
<g id="ee14"><circle class="n" cx="878" cy="220" r="8"/><text class="te" x="878" y="220">ee14</text></g>
<g id="ee21"><circle class="n" cx="885" cy="325" r="8"/><text class="te" x="885" y="325">ee21</text></g>
<g id="ee22"><circle class="n" cx="885" cy="352" r="8"/><text class="te" x="885" y="352">ee22</text></g>
<g id="ee23"><circle class="n" cx="885" cy="380" r="8"/><text class="te" x="885" y="380">ee23</text></g>
<g id="ee24"><circle class="n" cx="885" cy="407" r="8"/><text class="te" x="885" y="407">ee24</text></g>
<g id="ecg1"><circle class="n" cx="118" cy="508" r="8"/><text class="te" x="118" y="508">ecg1</text></g>
<g id="ecg2"><circle class="n" cx="118" cy="537" r="8"/><text class="te" x="118" y="537">ecg2</text></g>
<g id="ecg3"><circle class="n" cx="118" cy="563" r="8"/><text class="te" x="118" y="563">ecg3</text></g>
<g id="ecg4"><circle class="n" cx="118" cy="592" r="8"/><text class="te" x="118" y="592">ecg4</text></g>
<g id="ecg11"><circle class="n" cx="163" cy="667" r="8"/><text class="te" x="163" y="667">ecg11</text></g>
<g id="ecg12"><circle class="n" cx="197" cy="667" r="8"/><text class="te" x="197" y="667">ecg12</text></g>
<g id="ecg13"><circle class="n" cx="230" cy="667" r="8"/><text class="te" x="230" y="667">ecg13</text></g>
<g id="ecg14"><circle class="n" cx="263" cy="667" r="8"/><text class="te" x="263" y="667">ecg14</text></g>
<g id="ecg21"><circle class="n" cx="300" cy="697" r="8"/><text class="te" x="300" y="697">ecg21</text></g>
<g id="ecg22"><circle class="n" cx="335" cy="697" r="8"/><text class="te" x="335" y="697">ecg22</text></g>
<g id="ecg23"><circle class="n" cx="368" cy="697" r="8"/><text class="te" x="368" y="697">ecg23</text></g>
<g id="ecg24"><circle class="n" cx="403" cy="697" r="8"/><text class="te" x="403" y="697">ecg24</text></g>
<g id="ecs1"><circle class="n" cx="427" cy="648" r="8"/><text class="te" x="427" y="648">ecs1</text></g>
<g id="ecs2"><circle class="n" cx="460" cy="648" r="8"/><text class="te" x="460" y="648">ecs2</text></g>
<g id="ecs3"><circle class="n" cx="493" cy="648" r="8"/><text class="te" x="493" y="648">ecs3</text></g>
<g id="ecs11"><circle class="n" cx="517" cy="697" r="8"/><text class="te" x="517" y="697">ecs11</text></g>
<g id="ecs12"><circle class="n" cx="552" cy="697" r="8"/><text class="te" x="552" y="697">ecs12</text></g>
<g id="ecs13"><circle class="n" cx="585" cy="697" r="8"/><text class="te" x="585" y="697">ecs13</text></g>
<g id="ecs14"><circle class="n" cx="618" cy="697" r="8"/><text class="te" x="618" y="697">ecs14</text></g>
<g id="ecs21"><circle class="n" cx="625" cy="640" r="8"/><text class="te" x="625" y="640">ecs21</text></g>
<g id="ecs22"><circle class="n" cx="658" cy="640" r="8"/><text class="te" x="658" y="640">ecs22</text></g>
<g id="ecs23"><circle class="n" cx="693" cy="640" r="8"/><text class="te" x="693" y="640">ecs23</text></g>
<g id="ce1"><circle class="n" cx="878" cy="442" r="8"/><text class="te" x="878" y="442">ce1</text></g>
<g id="ce2"><circle class="n" cx="878" cy="468" r="8"/><text class="te" x="878" y="468">ce2</text></g>
<g id="ce3"><circle class="n" cx="878" cy="497" r="8"/><text class="te" x="878" y="497">ce3</text></g>
<g id="ce4"><circle class="n" cx="878" cy="523" r="8"/><text class="te" x="878" y="523">ce4</text></g>
<g id="ce11"><circle class="n" cx="878" cy="550" r="8"/><text class="te" x="878" y="550">ce11</text></g>
<g id="ce12"><circle class="n" cx="878" cy="577" r="8"/><text class="te" x="878" y="577">ce12</text></g>
<g id="ce13"><circle class="n" cx="878" cy="603" r="8"/><text class="te" x="878" y="603">ce13</text></g>
<g id="ce14"><circle class="n" cx="878" cy="632" r="8"/><text class="te" x="878" y="632">ce14</text></g>
<g id="ce21"><circle class="n" cx="880" cy="663" r="8"/><text class="te" x="880" y="663">ce21</text></g>
<g id="ce22"><circle class="n" cx="880" cy="690" r="8"/><text class="te" x="880" y="690">ce22</text></g>

<!-- observed indicators -->
<g id="v_EA1_1"><rect class="n" x="72.5" y="113.5" width="13" height="13"/><text class="to" x="79" y="120">EA1.1</text></g>
<g id="v_EA1_2"><rect class="n" x="117.5" y="113.5" width="13" height="13"/><text class="to" x="124" y="120">EA1.2</text></g>
<g id="v_EA1_3"><rect class="n" x="156.5" y="113.5" width="13" height="13"/><text class="to" x="163" y="120">EA1.3</text></g>
<g id="v_EA1_4"><rect class="n" x="196.5" y="113.5" width="13" height="13"/><text class="to" x="203" y="120">EA1.4</text></g>
<g id="v_EA2_1"><rect class="n" x="230.5" y="67.5" width="13" height="13"/><text class="to" x="237" y="74">EA2.1</text></g>
<g id="v_EA2_2"><rect class="n" x="268.5" y="67.5" width="13" height="13"/><text class="to" x="275" y="74">EA2.2</text></g>
<g id="v_EA2_3"><rect class="n" x="313.5" y="67.5" width="13" height="13"/><text class="to" x="320" y="74">EA2.3</text></g>
<g id="v_EA2_4"><rect class="n" x="355.5" y="67.5" width="13" height="13"/><text class="to" x="362" y="74">EA2.4</text></g>
<g id="v_EA3_1"><rect class="n" x="396.5" y="67.5" width="13" height="13"/><text class="to" x="403" y="74">EA3.1</text></g>
<g id="v_EA3_2"><rect class="n" x="435.5" y="67.5" width="13" height="13"/><text class="to" x="442" y="74">EA3.2</text></g>
<g id="v_EA3_3"><rect class="n" x="476.5" y="67.5" width="13" height="13"/><text class="to" x="483" y="74">EA3.3</text></g>
<g id="v_EA3_4"><rect class="n" x="521.5" y="67.5" width="13" height="13"/><text class="to" x="528" y="74">EA3.4</text></g>
<g id="v_BL1"><rect class="n" x="737" y="45" width="22" height="14"/><text class="to" x="748" y="52">BL1</text></g>
<g id="v_BL2"><rect class="n" x="737" y="76" width="22" height="14"/><text class="to" x="748" y="83">BL2</text></g>
<g id="v_BL4"><rect class="n" x="737" y="108" width="22" height="14"/><text class="to" x="748" y="115">BL4</text></g>
<g id="v_BL5"><rect class="n" x="737" y="138" width="22" height="14"/><text class="to" x="748" y="145">BL5</text></g>
<g id="v_B1_1"><rect class="n" x="165.5" y="238.5" width="13" height="13"/><text class="to" x="172" y="245">B1.1</text></g>
<g id="v_B1_2"><rect class="n" x="165.5" y="265.5" width="13" height="13"/><text class="to" x="172" y="272">B1.2</text></g>
<g id="v_B2_1"><rect class="n" x="153.5" y="290.5" width="13" height="13"/><text class="to" x="160" y="297">B2.1</text></g>
<g id="v_B2_2"><rect class="n" x="153.5" y="317.5" width="13" height="13"/><text class="to" x="160" y="324">B2.2</text></g>
<g id="v_B2_3"><rect class="n" x="153.5" y="345.5" width="13" height="13"/><text class="to" x="160" y="352">B2.3</text></g>
<g id="v_B2_4"><rect class="n" x="153.5" y="372.5" width="13" height="13"/><text class="to" x="160" y="379">B2.4</text></g>
<g id="v_B3_1"><rect class="n" x="198.5" y="391.5" width="13" height="13"/><text class="to" x="205" y="398">B3.1</text></g>
<g id="v_B3_2"><rect class="n" x="198.5" y="419.5" width="13" height="13"/><text class="to" x="205" y="426">B3.2</text></g>
<g id="v_B3_3"><rect class="n" x="198.5" y="446.5" width="13" height="13"/><text class="to" x="205" y="453">B3.3</text></g>
<g id="v_B3_4"><rect class="n" x="198.5" y="472.5" width="13" height="13"/><text class="to" x="205" y="479">B3.4</text></g>
<g id="v_B1_5"><rect class="n" x="261.5" y="263.5" width="13" height="13"/><text class="to" x="268" y="270">B1.5</text></g>
<g id="v_B1_6"><rect class="n" x="295.5" y="263.5" width="13" height="13"/><text class="to" x="302" y="270">B1.6</text></g>
<g id="v_B1_7"><rect class="n" x="326.5" y="263.5" width="13" height="13"/><text class="to" x="333" y="270">B1.7</text></g>
<g id="v_B2_5"><rect class="n" x="353.5" y="231.5" width="13" height="13"/><text class="to" x="360" y="238">B2.5</text></g>
<g id="v_B2_6"><rect class="n" x="389.5" y="231.5" width="13" height="13"/><text class="to" x="396" y="238">B2.6</text></g>
<g id="v_B2_7"><rect class="n" x="423.5" y="231.5" width="13" height="13"/><text class="to" x="430" y="238">B2.7</text></g>
<g id="v_B2_8"><rect class="n" x="456.5" y="231.5" width="13" height="13"/><text class="to" x="463" y="238">B2.8</text></g>
<g id="v_B3_5"><rect class="n" x="483.5" y="261.5" width="13" height="13"/><text class="to" x="490" y="268">B3.5</text></g>
<g id="v_B3_6"><rect class="n" x="516.5" y="261.5" width="13" height="13"/><text class="to" x="523" y="268">B3.6</text></g>
<g id="v_B3_7"><rect class="n" x="551.5" y="261.5" width="13" height="13"/><text class="to" x="558" y="268">B3.7</text></g>
<g id="v_B3_8"><rect class="n" x="585.5" y="261.5" width="13" height="13"/><text class="to" x="592" y="268">B3.8</text></g>
<g id="v_B1_8"><rect class="n" x="636.5" y="223.5" width="13" height="13"/><text class="to" x="643" y="230">B1.8</text></g>
<g id="v_B1_9"><rect class="n" x="670.5" y="223.5" width="13" height="13"/><text class="to" x="677" y="230">B1.9</text></g>
<g id="v_B1_10"><rect class="n" x="706.5" y="223.5" width="13" height="13"/><text class="to" x="713" y="230">B1.10</text></g>
<g id="v_B1_11"><rect class="n" x="740.5" y="223.5" width="13" height="13"/><text class="to" x="747" y="230">B1.11</text></g>
<g id="v_B2_9"><rect class="n" x="770.5" y="245.5" width="13" height="13"/><text class="to" x="777" y="252">B2.9</text></g>
<g id="v_B2_10"><rect class="n" x="803.5" y="245.5" width="13" height="13"/><text class="to" x="810" y="252">B2.10</text></g>
<g id="v_B2_11"><rect class="n" x="836.5" y="245.5" width="13" height="13"/><text class="to" x="843" y="252">B2.11</text></g>
<g id="v_B2_12"><rect class="n" x="871.5" y="245.5" width="13" height="13"/><text class="to" x="878" y="252">B2.12</text></g>
<g id="v_B3_9"><rect class="n" x="834" y="318" width="18" height="14"/><text class="to" x="843" y="325">B3.9</text></g>
<g id="v_B3_10"><rect class="n" x="834" y="345" width="18" height="14"/><text class="to" x="843" y="352">B3.10</text></g>
<g id="v_B3_11"><rect class="n" x="834" y="373" width="18" height="14"/><text class="to" x="843" y="380">B3.11</text></g>
<g id="v_B3_12"><rect class="n" x="834" y="400" width="18" height="14"/><text class="to" x="843" y="407">B3.12</text></g>
<g id="v_C1_1"><rect class="n" x="155.5" y="501.5" width="13" height="13"/><text class="to" x="162" y="508">C1.1</text></g>
<g id="v_C1_2"><rect class="n" x="155.5" y="530.5" width="13" height="13"/><text class="to" x="162" y="537">C1.2</text></g>
<g id="v_C1_3"><rect class="n" x="155.5" y="556.5" width="13" height="13"/><text class="to" x="162" y="563">C1.3</text></g>
<g id="v_C1_4"><rect class="n" x="155.5" y="585.5" width="13" height="13"/><text class="to" x="162" y="592">C1.4</text></g>
<g id="v_C2_1"><rect class="n" x="156.5" y="625.5" width="13" height="13"/><text class="to" x="163" y="632">C2.1</text></g>
<g id="v_C2_2"><rect class="n" x="190.5" y="625.5" width="13" height="13"/><text class="to" x="197" y="632">C2.2</text></g>
<g id="v_C2_3"><rect class="n" x="223.5" y="625.5" width="13" height="13"/><text class="to" x="230" y="632">C2.3</text></g>
<g id="v_C2_4"><rect class="n" x="256.5" y="625.5" width="13" height="13"/><text class="to" x="263" y="632">C2.4</text></g>
<g id="v_C3_1"><rect class="n" x="293.5" y="656.5" width="13" height="13"/><text class="to" x="300" y="663">C3.1</text></g>
<g id="v_C3_2"><rect class="n" x="328.5" y="656.5" width="13" height="13"/><text class="to" x="335" y="663">C3.2</text></g>
<g id="v_C3_3"><rect class="n" x="361.5" y="656.5" width="13" height="13"/><text class="to" x="368" y="663">C3.3</text></g>
<g id="v_C3_4"><rect class="n" x="396.5" y="656.5" width="13" height="13"/><text class="to" x="403" y="663">C3.4</text></g>
<g id="v_C1_5"><rect class="n" x="420.5" y="608.5" width="13" height="13"/><text class="to" x="427" y="615">C1.5</text></g>
<g id="v_C1_6"><rect class="n" x="453.5" y="608.5" width="13" height="13"/><text class="to" x="460" y="615">C1.6</text></g>
<g id="v_C1_7"><rect class="n" x="486.5" y="608.5" width="13" height="13"/><text class="to" x="493" y="615">C1.7</text></g>
<g id="v_C2_5"><rect class="n" x="510.5" y="656.5" width="13" height="13"/><text class="to" x="517" y="663">C2.5</text></g>
<g id="v_C2_6"><rect class="n" x="545.5" y="656.5" width="13" height="13"/><text class="to" x="552" y="663">C2.6</text></g>
<g id="v_C2_7"><rect class="n" x="578.5" y="656.5" width="13" height="13"/><text class="to" x="585" y="663">C2.7</text></g>
<g id="v_C2_8"><rect class="n" x="611.5" y="656.5" width="13" height="13"/><text class="to" x="618" y="663">C2.8</text></g>
<g id="v_C3_6"><rect class="n" x="618.5" y="600.5" width="13" height="13"/><text class="to" x="625" y="607">C3.6</text></g>
<g id="v_C3_7"><rect class="n" x="651.5" y="600.5" width="13" height="13"/><text class="to" x="658" y="607">C3.7</text></g>
<g id="v_C3_8"><rect class="n" x="686.5" y="600.5" width="13" height="13"/><text class="to" x="693" y="607">C3.8</text></g>
<g id="v_C1_8"><rect class="n" x="828" y="435" width="18" height="14"/><text class="to" x="837" y="442">C1.8</text></g>
<g id="v_C1_9"><rect class="n" x="828" y="461" width="18" height="14"/><text class="to" x="837" y="468">C1.9</text></g>
<g id="v_C1_10"><rect class="n" x="828" y="490" width="18" height="14"/><text class="to" x="837" y="497">C1.10</text></g>
<g id="v_C1_11"><rect class="n" x="828" y="516" width="18" height="14"/><text class="to" x="837" y="523">C1.11</text></g>
<g id="v_C2_9"><rect class="n" x="829" y="543" width="18" height="14"/><text class="to" x="838" y="550">C2.9</text></g>
<g id="v_C2_10"><rect class="n" x="829" y="570" width="18" height="14"/><text class="to" x="838" y="577">C2.10</text></g>
<g id="v_C2_11"><rect class="n" x="829" y="596" width="18" height="14"/><text class="to" x="838" y="603">C2.11</text></g>
<g id="v_C2_12"><rect class="n" x="829" y="625" width="18" height="14"/><text class="to" x="838" y="632">C2.12</text></g>
<g id="v_C3_9"><rect class="n" x="831" y="656" width="18" height="14"/><text class="to" x="840" y="663">C3.9</text></g>
<g id="v_C3_10"><rect class="n" x="831" y="683" width="18" height="14"/><text class="to" x="840" y="690">C3.10</text></g>
</svg>
